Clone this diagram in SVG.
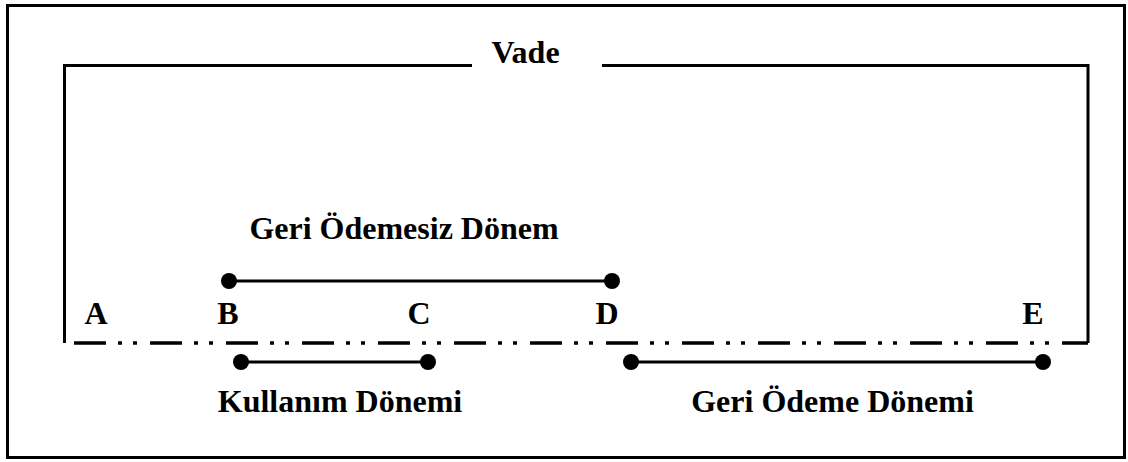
<svg xmlns="http://www.w3.org/2000/svg" width="1128" height="462" viewBox="0 0 1128 462">
<style>
.t{font-family:"Liberation Serif","Times New Roman",serif;font-weight:bold;font-size:32px;fill:#000;text-anchor:middle}
.ln{stroke:#000;stroke-width:3;fill:none}
.dd{stroke:#000;stroke-width:3.5;fill:none;stroke-dasharray:32 12 4 11 4 13}
.dot{fill:#000}
</style>
<rect x="0" y="0" width="1128" height="462" fill="#fff"/>
<g id="frame"><rect x="7.5" y="5.5" width="1117" height="452" class="ln"/></g>
<g id="vade">
<path class="ln" d="M64.5,343 V65.5 H472 M602,65.5 H1088 V343"/>
<text class="t" x="525.5" y="63">Vade</text>
</g>
<g id="timeline">
<path class="dd" d="M74,343 H1088"/>
</g>
<g id="A"><text class="t" x="96" y="324">A</text></g>
<g id="B"><text class="t" x="228" y="324">B</text></g>
<g id="C"><text class="t" x="419" y="324">C</text></g>
<g id="D"><text class="t" x="607" y="324">D</text></g>
<g id="E"><text class="t" x="1033" y="324">E</text></g>
<g id="connectors">
<path class="ln" d="M229,281 H612"/>
<circle class="dot" cx="229" cy="281" r="8"/>
<circle class="dot" cx="612" cy="281" r="8"/>
<path class="ln" d="M241,362 H428"/>
<circle class="dot" cx="241" cy="362" r="8"/>
<circle class="dot" cx="428" cy="362" r="8"/>
<path class="ln" d="M631,362 H1043"/>
<circle class="dot" cx="631" cy="362" r="8"/>
<circle class="dot" cx="1043" cy="362" r="8"/>
</g>
<g id="geri-odemesiz"><text class="t" x="404" y="239">Geri Ödemesiz Dönem</text></g>
<g id="kullanim"><text class="t" x="340" y="412">Kullanım Dönemi</text></g>
<g id="geri-odeme"><text class="t" x="832.5" y="412">Geri Ödeme Dönemi</text></g>
</svg>
